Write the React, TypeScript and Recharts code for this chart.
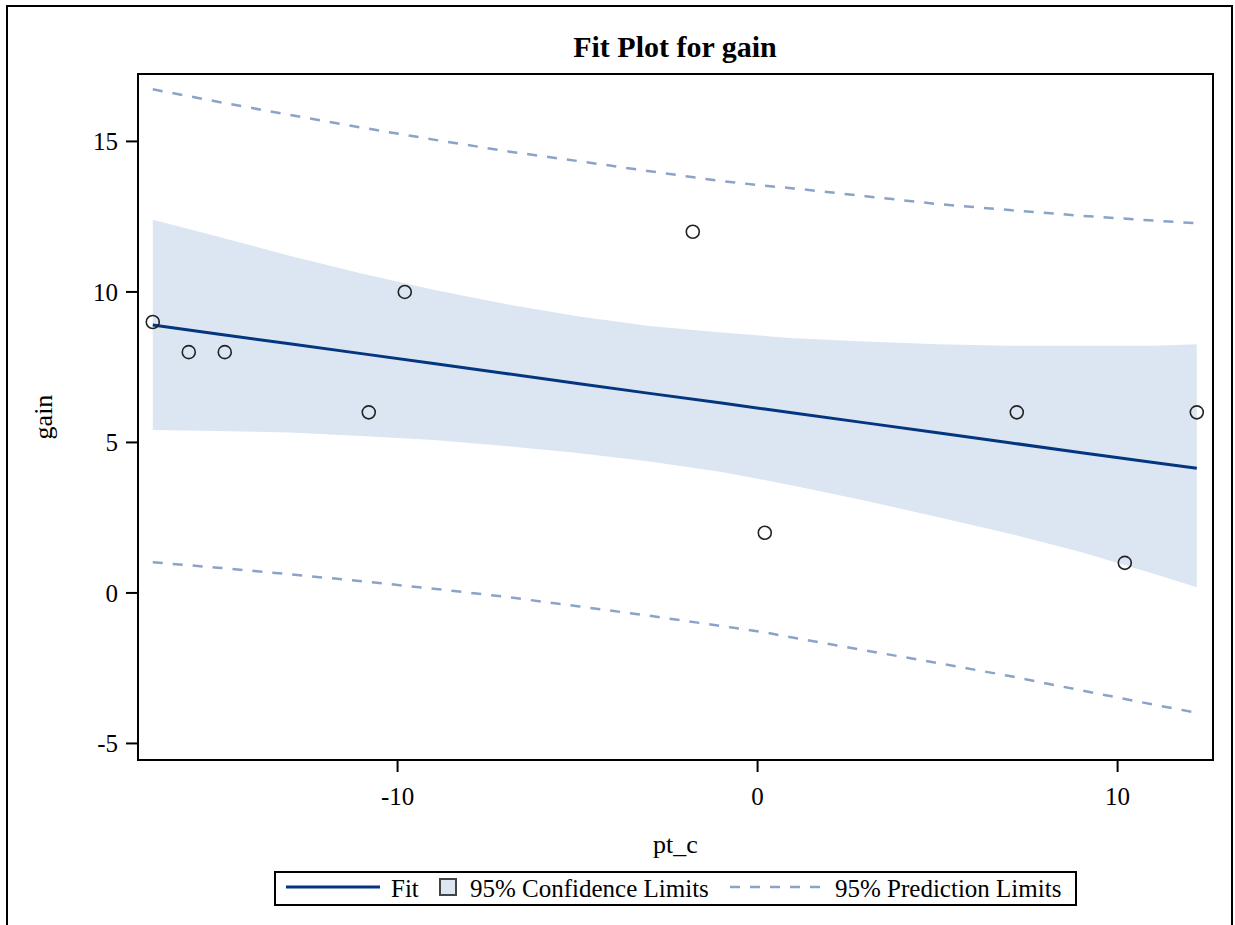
import { ComposedChart, Area, Line, Scatter, XAxis, YAxis } from 'recharts';

// grid of pt_c values where the fit and limit curves were read
const xs = [-16.8, -15, -13, -11, -9, -7, -5, -3, -1, 0.2, 1, 3, 5, 7, 9, 11, 12.2];
const fit = [8.9, 8.6, 8.28, 7.95, 7.62, 7.29, 6.96, 6.63, 6.31, 6.11, 5.98, 5.65, 5.32, 4.99, 4.66, 4.33, 4.14];
const clmUpper = [12.4, 11.84, 11.2, 10.61, 10.07, 9.6, 9.19, 8.87, 8.65, 8.54, 8.46, 8.35, 8.26, 8.21, 8.21, 8.21, 8.26];
const clmLower = [5.41, 5.38, 5.33, 5.21, 5.08, 4.88, 4.65, 4.37, 4.02, 3.75, 3.56, 3.06, 2.52, 1.97, 1.35, 0.64, 0.19];
const predUpper = [16.73, 16.32, 15.88, 15.46, 15.06, 14.68, 14.35, 14.01, 13.68, 13.53, 13.44, 13.18, 12.92, 12.72, 12.53, 12.37, 12.28];
const predLower = [1.02, 0.84, 0.62, 0.39, 0.14, -0.13, -0.44, -0.76, -1.1, -1.31, -1.49, -1.91, -2.33, -2.76, -3.24, -3.71, -3.98];

// observed points
const ptC = [-16.8, -15.8, -14.8, -10.8, -9.8, -1.8, 0.2, 7.2, 10.2, 12.2];
const gain = [9, 8, 8, 6, 10, 12, 2, 6, 1, 6];

const xTicks = [-10, 0, 10];
const yTicks = [-5, 0, 5, 10, 15];

const curves = xs.map((x, i) => ({
  x,
  fit: fit[i],
  clm: [clmLower[i], clmUpper[i]],
  lpred: predLower[i],
  upred: predUpper[i],
}));
const points = ptC.map((x, i) => ({ x, gain: gain[i] }));

const FONT = "'Liberation Serif', 'Times New Roman', serif";
const FIT_COLOR = '#04357f';
const BAND_COLOR = '#dce6f2';
const PRED_COLOR = '#8ba2c9';
const DASH = '10 10';

const Circle = (p: any) => (
  <circle cx={p.cx} cy={p.cy} r={6.5} fill="none" stroke="#222" strokeWidth={1.6} />
);

const GainLabel = (p: any) => {
  const vb = p.viewBox || { x: 0, y: 74, width: 138, height: 686 };
  const x = vb.x + 52;
  const y = vb.y + vb.height / 2;
  return (
    <text x={x} y={y} transform={`rotate(-90 ${x} ${y})`} textAnchor="middle" fontSize={26} fontFamily={FONT} fill="#000">
      gain
    </text>
  );
};

export default function App() {
  return (
    <div style={{ position: 'absolute', left: 0, top: 0, width: 1235, height: 925, overflow: 'hidden', background: '#fff' }}>
      <div style={{ position: 'absolute', left: 6, top: 5, width: 1227, height: 940, border: '2px solid #000', boxSizing: 'border-box' }} />
      <div style={{ position: 'absolute', left: 0, top: 0 }}>
        <ComposedChart width={1235} height={925} data={curves} margin={{ top: 74, right: 22, bottom: 72, left: 0 }}>
          <XAxis
            type="number"
            dataKey="x"
            domain={[-17.21, 12.65]}
            ticks={xTicks}
            allowDataOverflow
            height={93}
            axisLine={false}
            tickLine={{ stroke: '#000', strokeWidth: 2 }}
            tickSize={12}
            tickMargin={15}
            tick={{ fill: '#000', fontSize: 25, fontFamily: FONT }}
            label={{ value: 'pt_c', position: 'insideBottom', offset: 0, fill: '#000', fontSize: 26, fontFamily: FONT }}
          />
          <YAxis
            type="number"
            domain={[-5.55, 17.24]}
            ticks={yTicks}
            allowDataOverflow
            width={138}
            axisLine={false}
            tickLine={{ stroke: '#000', strokeWidth: 2 }}
            tickSize={12}
            tickMargin={8}
            tick={{ fill: '#000', fontSize: 25, fontFamily: FONT }}
            label={{ content: GainLabel }}
          />
          <Area dataKey="clm" type="linear" stroke="none" fill={BAND_COLOR} fillOpacity={1} isAnimationActive={false} />
          <Line dataKey="upred" type="linear" stroke={PRED_COLOR} strokeWidth={2.5} strokeDasharray={DASH} dot={false} isAnimationActive={false} />
          <Line dataKey="lpred" type="linear" stroke={PRED_COLOR} strokeWidth={2.5} strokeDasharray={DASH} dot={false} isAnimationActive={false} />
          <Line dataKey="fit" type="linear" stroke={FIT_COLOR} strokeWidth={3} dot={false} isAnimationActive={false} />
          <Scatter data={points} dataKey="gain" shape={Circle} isAnimationActive={false} />
        </ComposedChart>
      </div>
      <div style={{ position: 'absolute', left: 137, top: 73, width: 1077, height: 688, border: '2px solid #000', boxSizing: 'border-box', pointerEvents: 'none' }} />
      <svg width={1235} height={925} style={{ position: 'absolute', left: 0, top: 0, pointerEvents: 'none' }}>
        <text x={675} y={57} textAnchor="middle" fontSize={30} fontWeight="bold" fontFamily={FONT} fill="#000">
          Fit Plot for gain
        </text>
        <g transform="translate(274 871)" fontFamily={FONT} fontSize={25} fill="#000">
          <rect x={1} y={1} width={801} height={33} fill="#fff" stroke="#000" strokeWidth={2} />
          <line x1={12} y1={16} x2={106} y2={16} stroke={FIT_COLOR} strokeWidth={3} />
          <text x={117} y={26}>Fit</text>
          <rect x={166} y={8} width={16} height={16} fill={BAND_COLOR} stroke="#444" strokeWidth={2} />
          <text x={196} y={26}>95% Confidence Limits</text>
          <line x1={456} y1={16} x2={556} y2={16} stroke={PRED_COLOR} strokeWidth={2.5} strokeDasharray={DASH} />
          <text x={561} y={26}>95% Prediction Limits</text>
        </g>
      </svg>
    </div>
  );
}
